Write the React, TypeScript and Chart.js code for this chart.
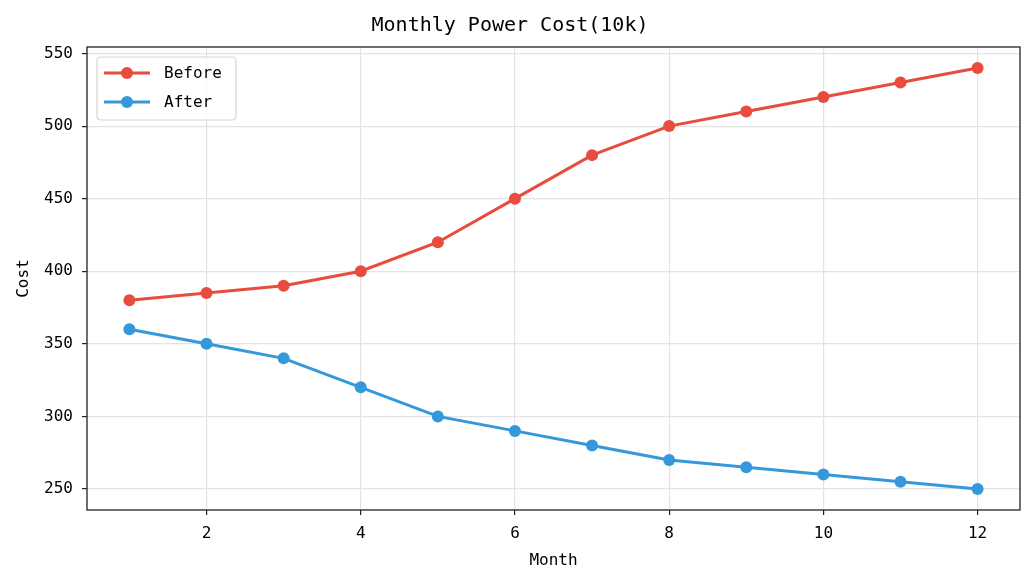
import { useEffect, useRef } from "react"
import { Chart, registerables } from "chart.js"

Chart.register(...registerables)

// data
const months = [1, 2, 3, 4, 5, 6, 7, 8, 9, 10, 11, 12]
const beforeCost = [380, 385, 390, 400, 420, 450, 480, 500, 510, 520, 530, 540]
const afterCost = [360, 350, 340, 320, 300, 290, 280, 270, 265, 260, 255, 250]
const xTicks = [2, 4, 6, 8, 10, 12]
const yTicks = [250, 300, 350, 400, 450, 500, 550]
const seriesNames = ["Before", "After"]
const seriesColors = ["#e74c3c", "#3498db"]

const FONT = "'DejaVu Sans Mono', 'Liberation Mono', monospace"

// frame around the plot + legend inside the axes (matplotlib style)
const framePlugin = {
  id: "frameAndLegend",
  afterDraw(chart: any) {
    const { ctx, chartArea } = chart
    const { left, top, right, bottom } = chartArea
    ctx.save()
    ctx.strokeStyle = "#222"
    ctx.lineWidth = 1.3
    ctx.strokeRect(left, top, right - left, bottom - top)

    // legend box
    const bx = left + 10
    const by = top + 10
    const bw = 139
    const bh = 63
    const r = 4
    ctx.beginPath()
    ctx.moveTo(bx + r, by)
    ctx.lineTo(bx + bw - r, by)
    ctx.quadraticCurveTo(bx + bw, by, bx + bw, by + r)
    ctx.lineTo(bx + bw, by + bh - r)
    ctx.quadraticCurveTo(bx + bw, by + bh, bx + bw - r, by + bh)
    ctx.lineTo(bx + r, by + bh)
    ctx.quadraticCurveTo(bx, by + bh, bx, by + bh - r)
    ctx.lineTo(bx, by + r)
    ctx.quadraticCurveTo(bx, by, bx + r, by)
    ctx.closePath()
    ctx.fillStyle = "rgba(255,255,255,0.8)"
    ctx.fill()
    ctx.strokeStyle = "#d6d6d6"
    ctx.lineWidth = 1.2
    ctx.stroke()

    ctx.font = `16px ${FONT}`
    ctx.textBaseline = "middle"
    ctx.textAlign = "left"
    seriesNames.forEach((name, i) => {
      const y = by + 16 + i * 29
      ctx.strokeStyle = seriesColors[i]
      ctx.lineWidth = 3
      ctx.beginPath()
      ctx.moveTo(bx + 7, y)
      ctx.lineTo(bx + 53, y)
      ctx.stroke()
      ctx.fillStyle = seriesColors[i]
      ctx.beginPath()
      ctx.arc(bx + 30, y, 6, 0, Math.PI * 2)
      ctx.fill()
      ctx.fillStyle = "#000"
      ctx.fillText(name, bx + 67, y + 1)
    })
    ctx.restore()
  },
}

export default function App() {
  const chartRef = useRef<HTMLCanvasElement>(null)
  const chartInstance = useRef<Chart | null>(null)

  useEffect(() => {
    if (!chartRef.current) return
    if (chartInstance.current) chartInstance.current.destroy()
    const ctx = chartRef.current.getContext("2d")
    if (!ctx) return

    const values = [beforeCost, afterCost]

    chartInstance.current = new Chart(ctx, {
      type: "line",
      data: {
        datasets: seriesNames.map((name, i) => ({
          label: name,
          data: months.map((m, j) => ({ x: m, y: values[i][j] })),
          borderColor: seriesColors[i],
          backgroundColor: seriesColors[i],
          borderWidth: 3,
          pointRadius: 6,
          pointBorderWidth: 0,
          pointBackgroundColor: seriesColors[i],
          tension: 0,
        })),
      },
      options: {
        animation: false,
        responsive: false,
        layout: { padding: { left: 0, right: 15, top: 0, bottom: 0 } },
        plugins: {
          legend: { display: false },
          tooltip: { enabled: false },
          title: {
            display: true,
            text: "Monthly Power Cost(10k)",
            color: "#000",
            font: { family: FONT, size: 20, weight: "normal" },
            padding: { top: 14, bottom: 9 },
          },
        },
        scales: {
          x: {
            type: "linear",
            min: 0.45,
            max: 12.55,
            afterFit: (scale: any) => {
              scale.height = 75
            },
            afterBuildTicks: (scale: any) => {
              scale.ticks = xTicks.map((v) => ({ value: v }))
            },
            grid: {
              color: "#e3e3e3",
              tickColor: "#222",
              tickLength: 5,
              lineWidth: 1.2,
            },
            border: { display: false },
            ticks: {
              color: "#000",
              font: { family: FONT, size: 16 },
              padding: 9,
              maxRotation: 0,
            },
            title: {
              display: true,
              text: "Month",
              color: "#000",
              font: { family: FONT, size: 16 },
              padding: { top: 0, bottom: 15 },
            },
          },
          y: {
            type: "linear",
            min: 235.5,
            max: 554.5,
            afterFit: (scale: any) => {
              scale.width = 87
            },
            afterBuildTicks: (scale: any) => {
              scale.ticks = yTicks.map((v) => ({ value: v }))
            },
            grid: {
              color: "#e3e3e3",
              tickColor: "#222",
              tickLength: 5,
              lineWidth: 1.2,
            },
            border: { display: false },
            ticks: {
              color: "#000",
              font: { family: FONT, size: 16 },
              padding: 9,
            },
            title: {
              display: true,
              text: "Cost",
              color: "#000",
              font: { family: FONT, size: 16 },
              padding: { top: 14, bottom: 0 },
            },
          },
        },
      },
      plugins: [framePlugin],
    })

    return () => {
      if (chartInstance.current) {
        chartInstance.current.destroy()
        chartInstance.current = null
      }
    }
  }, [])

  return (
    <div style={{ position: "fixed", left: 0, top: 0, width: 1035, height: 585, background: "#fff" }}>
      <canvas ref={chartRef} width={1035} height={585} style={{ width: 1035, height: 585 }} />
    </div>
  )
}
